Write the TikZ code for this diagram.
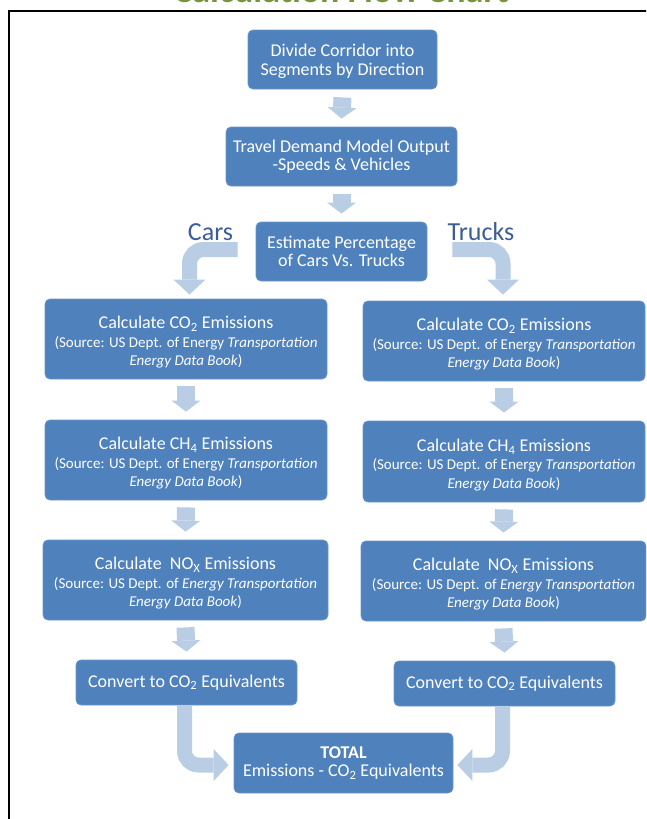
\documentclass[tikz,border=0pt]{standalone}
\usepackage{fontspec}
\setmainfont{Carlito}
\usetikzlibrary{arrows.meta,calc}
\definecolor{boxblue}{HTML}{4F81BD}
\definecolor{boxedge}{HTML}{6A95C8}
\definecolor{arrowblue}{HTML}{B9CDE5}
\definecolor{labelblue}{HTML}{3B5E96}
\definecolor{titleolive}{HTML}{77933C}
\tikzset{
  fcbox/.style={fill=boxblue, draw=boxedge, line width=0.8pt, rounded corners=5pt,
    text=white, align=center, inner sep=0pt,
    font=\fontsize{15}{18.5}\selectfont},
  downarr/.style={draw=arrowblue, line width=18pt,
    -{Triangle[width=29pt,length=11pt,line width=0pt]}},
  bentarr/.style={draw=arrowblue, line width=15pt, rounded corners=14pt,
    -{Triangle[width=32pt,length=15pt,line width=0pt]}},
  sidelabel/.style={text=labelblue, font=\fontsize{26}{30}\selectfont, inner sep=0pt}
}
\newcommand{\mainline}[1]{{\fontsize{18}{20}\selectfont #1}}
\newcommand{\calcline}[1]{{\fontsize{18}{20}\selectfont\rule{0pt}{19.5pt}#1}}
\begin{document}
\begin{tikzpicture}[x=1pt,y=-1pt]
\useasboundingbox (0,0) rectangle (646,819);
\clip (0,0) rectangle (646,819);
% title (cut off at top)
\node[anchor=base, text=titleolive, font=\bfseries\fontsize{36}{40}\selectfont, inner sep=0pt] (title) at (341,2) {Calculation Flow Chart};
% frame
\draw[line width=2.5pt] (9,830) -- (9,11) -- (660,11);

% top chain
\node[fcbox, minimum width=189pt, minimum height=59pt] (div) at (342.5,59.5)
  {\mainline{\rule{0pt}{16pt}Divide Corridor into}\\\mainline{Segments by Direction}};
\node[fcbox, minimum width=231pt, minimum height=59pt] (tdm) at (341.5,156.5)
  {\mainline{Travel Demand Model Output}\\\mainline{-Speeds \& Vehicles}};
\node[fcbox, minimum width=171pt, minimum height=59pt] (est) at (341.5,251.5)
  {\mainline{Estimate Percentage}\\\mainline{of Cars Vs. Trucks}};

\node[sidelabel] (cars) at (210.5,232) {Cars};
\node[sidelabel] (trucks) at (481,232) {Trucks};

% left column
\node[fcbox, minimum width=282pt, minimum height=80pt] (co2L) at (186,339)
  {\calcline{Calculate CO\textsubscript{2} Emissions}\\(Source: US Dept. of Energy \textit{Transportation}\\\textit{Energy Data Book})};
\node[fcbox, minimum width=282pt, minimum height=80pt] (ch4L) at (186,460)
  {\calcline{Calculate CH\textsubscript{4} Emissions}\\(Source: US Dept. of Energy \textit{Transportation}\\\textit{Energy Data Book})};
\node[fcbox, minimum width=285pt, minimum height=80pt] (noxL) at (185.5,580)
  {\calcline{Calculate\ \ NO\textsubscript{X} Emissions}\\(Source: US Dept. of \textit{Energy Transportation}\\\textit{Energy Data Book})};
\node[fcbox, minimum width=221pt, minimum height=45pt] (convL) at (186.5,682.5)
  {\mainline{Convert to CO\textsubscript{2} Equivalents}};

% right column
\node[fcbox, minimum width=282pt, minimum height=80pt] (co2R) at (504,341)
  {\calcline{Calculate CO\textsubscript{2} Emissions}\\(Source: US Dept. of Energy \textit{Transportation}\\\textit{Energy Data Book})};
\node[fcbox, minimum width=282pt, minimum height=81pt] (ch4R) at (504,461.5)
  {\calcline{Calculate CH\textsubscript{4} Emissions}\\(Source: US Dept. of Energy \textit{Transportation}\\\textit{Energy Data Book})};
\node[fcbox, minimum width=285pt, minimum height=80pt] (noxR) at (503.5,581)
  {\calcline{Calculate\ \ NO\textsubscript{X} Emissions}\\(Source: US Dept. of \textit{Energy Transportation}\\\textit{Energy Data Book})};
\node[fcbox, minimum width=221pt, minimum height=45pt] (convR) at (504.5,683.5)
  {\mainline{Convert to CO\textsubscript{2} Equivalents}};

% total
\node[fcbox, minimum width=219pt, minimum height=60pt] (total) at (343.5,763)
  {\mainline{\textbf{TOTAL}}\\\mainline{Emissions - CO\textsubscript{2} Equivalents}};

% straight arrows
\draw[downarr] ($(div.south)+(0,8)$) -- ($(tdm.north)+(0,-8)$);
\draw[downarr] ($(tdm.south)+(0,8)$) -- ($(est.north)+(0,-8)$);
\draw[downarr] ($(co2L.south)+(0,7)$) -- ($(ch4L.north)+(0,-8)$);
\draw[downarr] ($(ch4L.south)+(0,7)$) -- ($(noxL.north)+(0,-8)$);
\draw[downarr] ($(noxL.south)+(0,7)$) -- ($(convL.north)+(0,-8)$);
\draw[downarr] ($(co2R.south)+(0,7)$) -- ($(ch4R.north)+(0,-8)$);
\draw[downarr] ($(ch4R.south)+(0,7)$) -- ($(noxR.north)+(0,-8)$);
\draw[downarr] ($(noxR.south)+(0,7)$) -- ($(convR.north)+(0,-8)$);

% bent arrows
\draw[bentarr] ($(est.west)+(-18,-2)$) -| ($(co2L.north)+(3.5,-4)$);
\draw[bentarr] ($(est.east)+(25,-2)$) -| ($(co2R.north)+(-1,-6)$);
\draw[bentarr] ($(convL.south)+(-2,0)$) |- ($(total.west)+(-5,2)$);
\draw[bentarr] ($(convR.south)+(-2,0)$) |- ($(total.east)+(4,2)$);
\end{tikzpicture}
\end{document}
